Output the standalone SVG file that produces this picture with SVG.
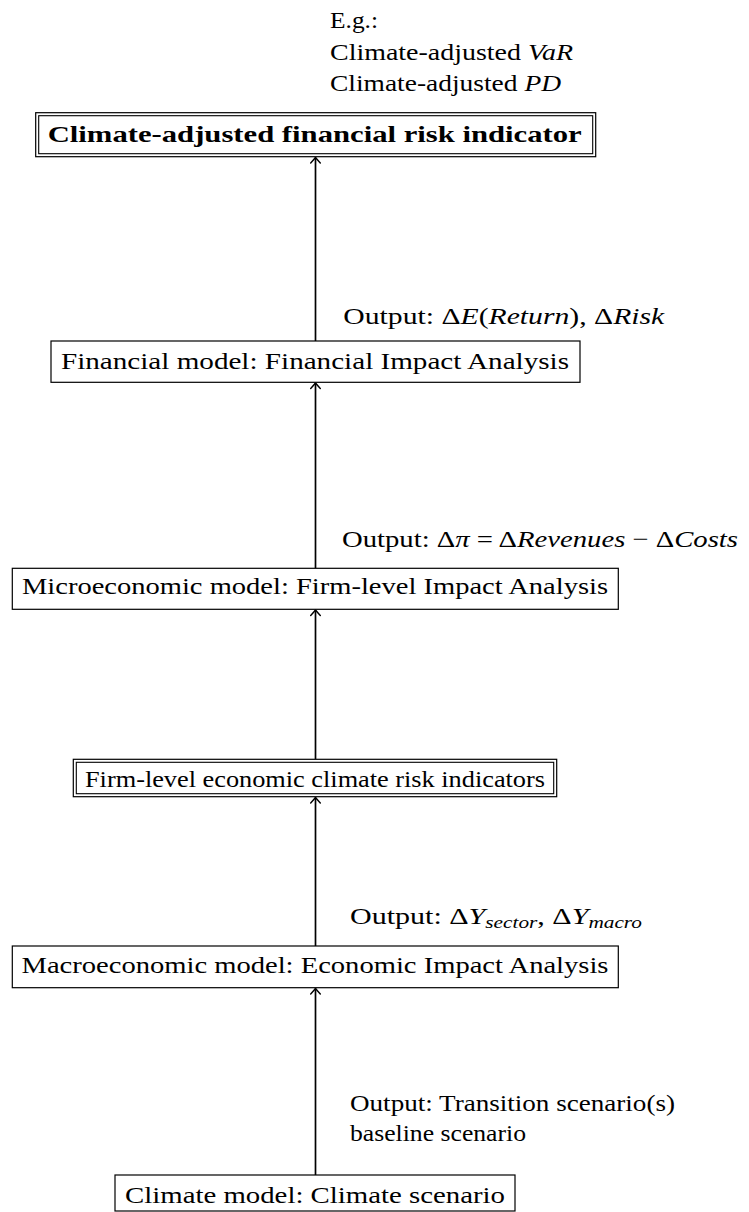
<svg xmlns="http://www.w3.org/2000/svg" width="749" height="1212" viewBox="0 0 749 1212">
<style>
.t { font-family: "Liberation Serif", "Times New Roman", serif; font-size: 24px; fill: #000; }
.b { font-weight: bold; }
.i { font-style: italic; }
.s { font-size: 17px; font-style: italic; }
.box { fill: #fff; stroke: #000; stroke-width: 1.2; }
.inner { fill: none; stroke: #000; stroke-width: 1.1; }
.edge { stroke: #000; stroke-width: 1.7; fill: none; marker-end: url(#arr); }
</style>
<defs>
<marker id="arr" viewBox="-8 -6 10 12" markerWidth="10" markerHeight="12" refX="0" refY="0" orient="auto" markerUnits="userSpaceOnUse">
<path d="M -5.5 -4.8 Q -1.5 -1.2 0 0 Q -1.5 1.2 -5.5 4.8" fill="none" stroke="#000" stroke-width="1.4" stroke-linecap="round"/>
</marker>
</defs>
<rect x="0" y="0" width="749" height="1212" fill="#fff"/>

<g id="connectors">
<line class="edge" x1="315.5" y1="1175" x2="315.5" y2="988.5"/>
<line class="edge" x1="315.5" y1="946" x2="315.5" y2="797.5"/>
<line class="edge" x1="315.5" y1="759.3" x2="315.5" y2="610"/>
<line class="edge" x1="315.5" y1="568.3" x2="315.5" y2="383"/>
<line class="edge" x1="315.5" y1="341" x2="315.5" y2="157.5"/>
<text class="t" x="350" y="1111" textLength="325" lengthAdjust="spacingAndGlyphs">Output: Transition scenario(s)</text>
<text class="t" x="350" y="1141" textLength="176" lengthAdjust="spacingAndGlyphs">baseline scenario</text>
<text class="t" x="350" y="924" textLength="292" lengthAdjust="spacingAndGlyphs">Output: Δ<tspan class="i">Y</tspan><tspan class="s" dy="4">sector</tspan><tspan dy="-4">, Δ</tspan><tspan class="i">Y</tspan><tspan class="s" dy="4">macro</tspan></text>
<text class="t" x="342" y="547" textLength="396" lengthAdjust="spacingAndGlyphs">Output: Δ<tspan class="i">π</tspan> = Δ<tspan class="i">Revenues</tspan> − Δ<tspan class="i">Costs</tspan></text>
<text class="t" x="343.3" y="324" textLength="321" lengthAdjust="spacingAndGlyphs">Output: Δ<tspan class="i">E</tspan>(<tspan class="i">Return</tspan>), Δ<tspan class="i">Risk</tspan></text>
</g>

<g id="node-climate">
<rect class="box" x="115" y="1175" width="400" height="36"/>
<text class="t" x="125" y="1202.7" textLength="380" lengthAdjust="spacingAndGlyphs">Climate model: Climate scenario</text>
</g>

<g id="node-macro">
<rect class="box" x="12.3" y="946" width="606" height="41.7"/>
<text class="t" x="21.5" y="973.3" textLength="587" lengthAdjust="spacingAndGlyphs">Macroeconomic model: Economic Impact Analysis</text>
</g>

<g id="node-firm-indicators">
<rect class="box" x="73.3" y="759.3" width="483.4" height="37.4"/>
<rect class="inner" x="76.3" y="762.3" width="477.4" height="31.4"/>
<text class="t" x="85" y="786.5" textLength="460" lengthAdjust="spacingAndGlyphs">Firm-level economic climate risk indicators</text>
</g>

<g id="node-micro">
<rect class="box" x="12.3" y="568.3" width="606" height="41"/>
<text class="t" x="22" y="594" textLength="586" lengthAdjust="spacingAndGlyphs">Microeconomic model: Firm-level Impact Analysis</text>
</g>

<g id="node-financial">
<rect class="box" x="51" y="341" width="529" height="41.3"/>
<text class="t" x="61" y="369" textLength="508" lengthAdjust="spacingAndGlyphs">Financial model: Financial Impact Analysis</text>
</g>

<g id="node-indicator">
<rect class="box" x="35.7" y="112.7" width="560" height="44"/>
<rect class="inner" x="38.7" y="115.7" width="554" height="38"/>
<text class="t b" x="47.7" y="141.7" textLength="534" lengthAdjust="spacingAndGlyphs">Climate-adjusted financial risk indicator</text>
</g>

<g id="note-examples">
<text class="t" x="330" y="28" textLength="48" lengthAdjust="spacingAndGlyphs">E.g.:</text>
<text class="t" x="330" y="59.5" textLength="243" lengthAdjust="spacingAndGlyphs">Climate-adjusted <tspan class="i">VaR</tspan></text>
<text class="t" x="330" y="90.5" textLength="231" lengthAdjust="spacingAndGlyphs">Climate-adjusted <tspan class="i">PD</tspan></text>
</g>
</svg>
